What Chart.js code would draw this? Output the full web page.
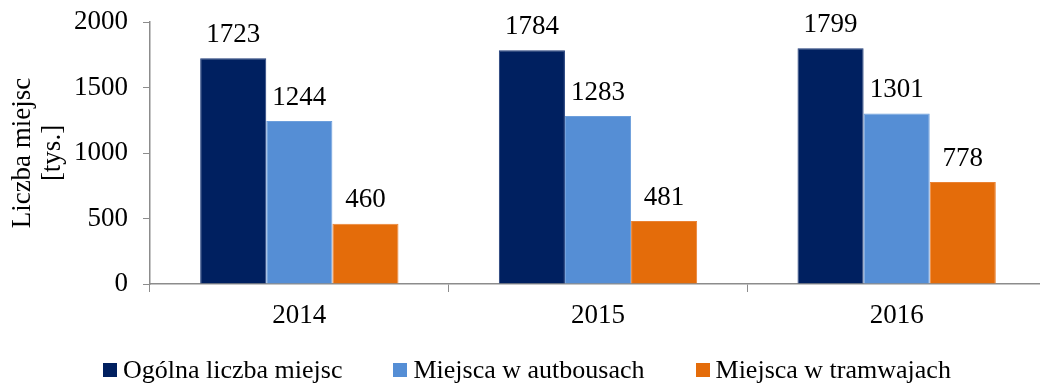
<!DOCTYPE html>
<html lang="pl">
<head>
<meta charset="utf-8">
<script src="https://cdn.jsdelivr.net/npm/chart.js@4/dist/chart.umd.min.js"></script>
<style>
  html, body { margin: 0; padding: 0; background: #fff; overflow: hidden; }
  #wrap { position: relative; width: 1040px; height: 385px; overflow: hidden; }
  #wrap canvas { position: absolute; left: 0; top: 0; }
  #legend { position: absolute; top: 356px; left: 103px; display: flex; align-items: center;
            font-family: "Liberation Serif", "Times New Roman", serif; font-size: 26px; color: #000;
            white-space: nowrap; line-height: 28px; }
  #legend .item { display: flex; align-items: center; margin-right: 51px; }
  #legend .box { width: 14px; height: 14px; margin-right: 6px; }
</style>
</head>
<body>
<div id="wrap">
  <canvas id="chart" width="1048" height="385" style="width:1048px;height:385px"></canvas>
  <div id="legend"></div>
</div>
<script>
// Passenger seats in public transport (thousands)
const years = ['2014', '2015', '2016'];
const seatsTotal = [1723, 1784, 1799];
const seatsBuses = [1244, 1283, 1301];
const seatsTrams = [460, 481, 778];
const seriesNames = ['Ogólna liczba miejsc', 'Miejsca w autbousach', 'Miejsca w tramwajach'];
const seriesColors = ['#002060', '#558ED5', '#E46C0A'];
const seriesBorders = ['#1d3a78', '#6d9fdc', '#ea8233'];
const yTicks = [0, 500, 1000, 1500, 2000];
const yTitle = ['Liczba miejsc', '[tys.]'];

const FONT = '"Liberation Serif", "Times New Roman", serif';
const AXIS_GREY = '#8c8c8c';

// Value labels above each bar
const valueLabels = {
  id: 'valueLabels',
  afterDatasetsDraw(chart) {
    const ctx = chart.ctx;
    ctx.save();
    ctx.font = '27px ' + FONT;
    ctx.fillStyle = '#000';
    ctx.textAlign = 'center';
    ctx.textBaseline = 'middle';
    chart.data.datasets.forEach((ds, i) => {
      chart.getDatasetMeta(i).data.forEach((bar, j) => {
        ctx.fillText(String(ds.data[j]), bar.x, bar.y - 23.5);
      });
    });
    ctx.restore();
  }
};

const seriesData = [seatsTotal, seatsBuses, seatsTrams];

const chart = new Chart(document.getElementById('chart'), {
  type: 'bar',
  data: {
    labels: years,
    datasets: seriesData.map((d, i) => ({
      label: seriesNames[i],
      data: d,
      backgroundColor: seriesColors[i],
      borderColor: seriesBorders[i],
      borderWidth: 1,
      categoryPercentage: 0.664,
      barPercentage: 1.0
    }))
  },
  options: {
    responsive: false,
    animation: false,
    layout: { padding: { top: 22, right: 2, left: 0, bottom: 0 } },
    plugins: {
      legend: { display: false },
      tooltip: { enabled: false }
    },
    scales: {
      x: {
        grid: { display: true, drawOnChartArea: false, drawTicks: true, tickLength: 8,
                color: AXIS_GREY, offset: true },
        border: { display: true, color: AXIS_GREY, width: 1.5 },
        ticks: { font: { family: FONT, size: 27 }, color: '#000', padding: 8, maxRotation: 0 },
        afterFit(scale) { scale.height = 101; scale.paddingLeft = 0; scale.paddingRight = 0; }
      },
      y: {
        min: 0,
        max: 2000,
        afterBuildTicks(scale) { scale.ticks = yTicks.map(v => ({ value: v })); },
        grid: { display: true, drawOnChartArea: false, drawTicks: true, tickLength: 7,
                color: AXIS_GREY },
        border: { display: true, color: AXIS_GREY, width: 1.5 },
        ticks: { font: { family: FONT, size: 27 }, color: '#000', padding: 15,
                 callback: v => String(v) },
        title: { display: true, text: yTitle, font: { family: FONT, size: 27, lineHeight: 1.1 },
                 color: '#000', padding: { top: 8, bottom: 0 } },
        afterFit(scale) { scale.width = 150; scale.paddingTop = 0; scale.paddingBottom = 0; }
      }
    }
  },
  plugins: [valueLabels]
});

// Legend built from the chart's datasets
const legendEl = document.getElementById('legend');
chart.data.datasets.forEach(ds => {
  const item = document.createElement('div');
  item.className = 'item';
  const box = document.createElement('span');
  box.className = 'box';
  box.style.background = ds.backgroundColor;
  const txt = document.createElement('span');
  txt.textContent = ds.label;
  item.appendChild(box);
  item.appendChild(txt);
  legendEl.appendChild(item);
});
</script>
</body>
</html>
